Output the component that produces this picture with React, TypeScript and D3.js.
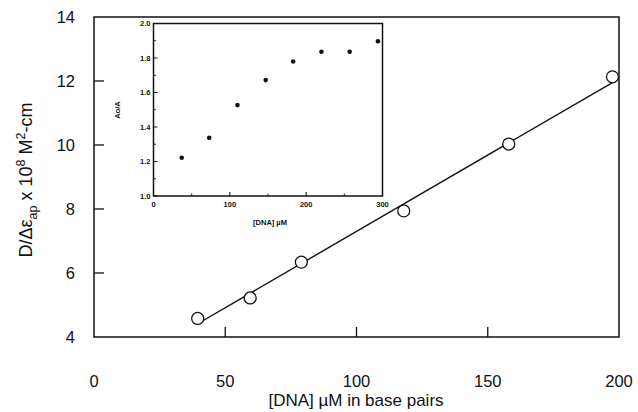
import React from "react";
import * as d3 from "d3";

const dnaMain = [39.5, 59.5, 79, 118, 158, 197.5];
const dEps = [4.58, 5.22, 6.34, 7.94, 10.03, 12.13];
const fitIntercept = 2.53;
const fitSlope = 0.0477;
const fitRange = [40, 197.5];
const mainXTicks = [0, 50, 100, 150, 200];
const mainYTicks = [4, 6, 8, 10, 12, 14];

const dnaInset = [37, 73, 110, 147, 183, 220, 257, 294];
const aoA = [1.222, 1.338, 1.527, 1.672, 1.78, 1.836, 1.836, 1.897];
const insetXTicks = [0, 100, 200, 300];
const insetXMinor = [50, 150, 250];
const insetYTicks = [1.0, 1.2, 1.4, 1.6, 1.8, 2.0];
const insetYMinor = [1.1, 1.3, 1.5, 1.7, 1.9];

const W = 638;
const H = 412;
const font = "'Liberation Sans', Arial, Helvetica, sans-serif";

export default function App() {
  const x = d3.scaleLinear().domain([0, 200]).range([94, 619]);
  const y = d3.scaleLinear().domain([4, 14]).range([337, 17]);
  const ix = d3.scaleLinear().domain([0, 300]).range([153.5, 382.5]);
  const iy = d3.scaleLinear().domain([1, 2]).range([196, 23.5]);

  const fitLine = d3
    .line<number>()
    .x((d) => x(d))
    .y((d) => y(fitIntercept + fitSlope * d));

  return (
    <svg
      width={W}
      height={H}
      style={{ position: "absolute", left: 0, top: 0, background: "#fff" }}
      fontFamily={font}
    >
      <rect x={0} y={0} width={W} height={H} fill="#fff" />
      {/* main fit line */}
      <path d={fitLine(fitRange) || ""} fill="none" stroke="#111" strokeWidth={1.4} />
      {/* main frame */}
      <rect
        x={x(0)}
        y={y(14)}
        width={x(200) - x(0)}
        height={y(4) - y(14)}
        fill="none"
        stroke="#111"
        strokeWidth={1.5}
      />
      {/* main ticks */}
      {mainYTicks.map((t) => (
        <g key={"my" + t}>
          {t > 4 && t < 14 && (
            <line x1={x(0)} x2={x(0) + 10} y1={y(t)} y2={y(t)} stroke="#111" strokeWidth={1.3} />
          )}
          <text x={x(0) - 19} y={y(t)} dy="0.36em" textAnchor="end" fontSize={16.5} fill="#111">
            {t}
          </text>
        </g>
      ))}
      {mainXTicks.map((t) => (
        <g key={"mx" + t}>
          {t > 0 && t < 200 && (
            <line x1={x(t)} x2={x(t)} y1={y(4)} y2={y(4) - 10} stroke="#111" strokeWidth={1.3} />
          )}
          <text x={x(t)} y={y(4) + 50} textAnchor="middle" fontSize={16.5} fill="#111">
            {t}
          </text>
        </g>
      ))}
      {/* main points */}
      {dnaMain.map((d, i) => (
        <circle key={"mp" + i} cx={x(d)} cy={y(dEps[i])} r={6} fill="#fff" stroke="#111" strokeWidth={1.3} />
      ))}
      {/* axis titles */}
      <text x={356} y={406} textAnchor="middle" fontSize={17} fill="#111">
        [DNA] µM in base pairs
      </text>
      <text transform="translate(32,180) rotate(-90)" textAnchor="middle" fontSize={18} fill="#111">
        D/Δε
        <tspan fontSize={12.5} dy={5}>ap</tspan>
        <tspan dy={-5}> x 10</tspan>
        <tspan fontSize={12.5} dy={-7}>8</tspan>
        <tspan dy={7}> M</tspan>
        <tspan fontSize={12.5} dy={-7}>2</tspan>
        <tspan dy={7}>-cm</tspan>
      </text>

      {/* inset */}
      <rect
        x={ix(0)}
        y={iy(2)}
        width={ix(300) - ix(0)}
        height={iy(1) - iy(2)}
        fill="#fff"
        stroke="#111"
        strokeWidth={1.5}
      />
      {insetYTicks.map((t) => (
        <g key={"iy" + t}>
          <line x1={ix(0)} x2={ix(0) + 4} y1={iy(t)} y2={iy(t)} stroke="#111" strokeWidth={1} />
          <text
            x={ix(0) - 3}
            y={iy(t)}
            dy="0.35em"
            textAnchor="end"
            fontSize={7.5}
            fontWeight="bold"
            fill="#111"
          >
            {t.toFixed(1)}
          </text>
        </g>
      ))}
      {insetYMinor.map((t) => (
        <line key={"iym" + t} x1={ix(0)} x2={ix(0) + 2.5} y1={iy(t)} y2={iy(t)} stroke="#111" strokeWidth={0.9} />
      ))}
      {insetXTicks.map((t) => (
        <g key={"ix" + t}>
          <line x1={ix(t)} x2={ix(t)} y1={iy(1)} y2={iy(1) - 4} stroke="#111" strokeWidth={1} />
          <text x={ix(t)} y={iy(1) + 11} textAnchor="middle" fontSize={7.5} fontWeight="bold" fill="#111">
            {t}
          </text>
        </g>
      ))}
      {insetXMinor.map((t) => (
        <line key={"ixm" + t} x1={ix(t)} x2={ix(t)} y1={iy(1)} y2={iy(1) - 2.5} stroke="#111" strokeWidth={0.9} />
      ))}
      {dnaInset.map((d, i) => (
        <circle key={"ip" + i} cx={ix(d)} cy={iy(aoA[i])} r={2.3} fill="#111" />
      ))}
      <text x={270} y={225} textAnchor="middle" fontSize={7.5} fontWeight="bold" fill="#111">
        [DNA] µM
      </text>
      <text
        transform="translate(120,110) rotate(-90)"
        textAnchor="middle"
        fontSize={7.5}
        fontWeight="bold"
        fill="#111"
      >
        Ao/A
      </text>
    </svg>
  );
}
